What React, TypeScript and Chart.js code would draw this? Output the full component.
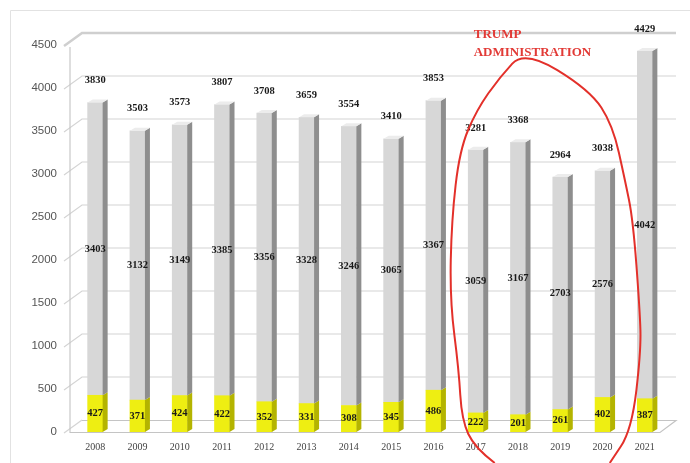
import React, { useEffect, useRef } from "react";
import { Chart, registerables } from "chart.js";

Chart.register(...registerables);

const years = ["2008","2009","2010","2011","2012","2013","2014","2015","2016","2017","2018","2019","2020","2021"];
const totals = [3830, 3503, 3573, 3807, 3708, 3659, 3554, 3410, 3853, 3281, 3368, 2964, 3038, 4429];
const yellowValues = [427, 371, 424, 422, 352, 331, 308, 345, 486, 222, 201, 261, 402, 387];
const greyLabels = [3403, 3132, 3149, 3385, 3356, 3328, 3246, 3065, 3367, 3059, 3167, 2703, 2576, 4042];
const yTicks = [0, 500, 1000, 1500, 2000, 2500, 3000, 3500, 4000, 4500];
const annotationLines = ["TRUMP", "ADMINISTRATION"];
// hand-drawn loop, in (category index, value) units
const loopIdx = [9.45, 8.98, 8.67, 8.6, 8.39, 8.43, 8.62, 9.02, 9.57, 10.16, 11.7, 12.24, 12.53, 12.72, 12.88, 12.91, 12.69, 12.17];
const loopVal = [-360, -186, 140, 721, 1535, 2465, 3279, 3744, 4128, 4440, 3977, 3570, 2930, 2465, 1419, 953, 23, -360];

const greyValues = totals.map((t, i) => t - yellowValues[i]);

const decorPlugin = {
  id: "decor",
  beforeDatasetsDraw(chart: any) {
    const { ctx, chartArea, scales } = chart;
    const y = scales.y;
    const L = chartArea.left;
    const R = chartArea.right;
    ctx.save();
    // frame
    ctx.strokeStyle = "#e2e2e2";
    ctx.lineWidth = 1;
    ctx.beginPath();
    ctx.moveTo(10.5, 463);
    ctx.lineTo(10.5, 10.5);
    ctx.lineTo(690, 10.5);
    ctx.stroke();
    // back wall grid lines
    yTicks.forEach((v) => {
      const py = y.getPixelForValue(v);
      ctx.strokeStyle = v === 4500 ? "#cfcfcf" : "#d4d4d4";
      ctx.lineWidth = v === 4500 ? 2.5 : 1.2;
      ctx.beginPath();
      ctx.moveTo(L - 10, py + 1);
      ctx.lineTo(L + 8, py - 12);
      if (v !== 0) ctx.lineTo(R + 10, py - 12);
      ctx.stroke();
    });
    // axis line
    ctx.strokeStyle = "#c8c8c8";
    ctx.lineWidth = 1.2;
    ctx.beginPath();
    ctx.moveTo(L - 4, y.getPixelForValue(4500) + 2);
    ctx.lineTo(L - 4, y.getPixelForValue(0) + 1);
    ctx.stroke();
    // floor
    const z = y.getPixelForValue(0);
    ctx.strokeStyle = "#c4c4c4";
    ctx.beginPath();
    ctx.moveTo(L - 4, z + 0.5);
    ctx.lineTo(R - 6, z + 0.5);
    ctx.lineTo(R + 10, z - 11.5);
    ctx.lineTo(L + 8, z - 11.5);
    ctx.stroke();
    ctx.restore();
  },
  afterDatasetsDraw(chart: any) {
    const { ctx, scales } = chart;
    const x = scales.x;
    const y = scales.y;
    ctx.save();
    const sides = ["#b4b400", "#8e8e8e"];
    const caps = ["#f6f680", "#ececec"];
    [0, 1].forEach((di) => {
      const meta = chart.getDatasetMeta(di);
      meta.data.forEach((bar: any) => {
        const w = bar.width;
        const right = bar.x + w / 2;
        const top = Math.min(bar.y, bar.base);
        const bottom = Math.max(bar.y, bar.base);
        ctx.fillStyle = sides[di];
        ctx.beginPath();
        ctx.moveTo(right, top);
        ctx.lineTo(right + 5, top - 3);
        ctx.lineTo(right + 5, bottom - 3);
        ctx.lineTo(right, bottom);
        ctx.closePath();
        ctx.fill();
        if (di === 1) {
          ctx.fillStyle = caps[di];
          ctx.beginPath();
          ctx.moveTo(bar.x - w / 2, top);
          ctx.lineTo(bar.x - w / 2 + 5, top - 3);
          ctx.lineTo(right + 5, top - 3);
          ctx.lineTo(right, top);
          ctx.closePath();
          ctx.fill();
        }
      });
    });
    // value labels
    ctx.fillStyle = "#1a1a1a";
    ctx.textAlign = "center";
    ctx.textBaseline = "middle";
    ctx.font = "bold 10.5px 'Liberation Serif', serif";
    years.forEach((_, i) => {
      const px = x.getPixelForValue(i);
      const yTop = y.getPixelForValue(totals[i]);
      const yMid = y.getPixelForValue(yellowValues[i]);
      const y0 = y.getPixelForValue(0);
      ctx.fillText(String(totals[i]), px, yTop - 22);
      ctx.fillText(String(greyLabels[i]), px, (yTop + yMid) / 2);
      ctx.fillText(String(yellowValues[i]), px, (yMid + y0) / 2);
    });
    // annotation text
    ctx.fillStyle = "#e23a36";
    ctx.textAlign = "left";
    ctx.font = "bold 13px 'Liberation Serif', serif";
    const tx = x.getPixelForValue(9) - 2;
    ctx.fillText(annotationLines[0], tx, y.getPixelForValue(4616));
    ctx.fillText(annotationLines[1], tx, y.getPixelForValue(4407));
    // hand drawn loop
    const pts = loopIdx.map((v, i) => [x.getPixelForValue(v), y.getPixelForValue(loopVal[i])]);
    ctx.strokeStyle = "#e3302a";
    ctx.lineWidth = 2;
    ctx.lineJoin = "round";
    ctx.beginPath();
    ctx.moveTo(pts[0][0], pts[0][1]);
    for (let i = 1; i < pts.length - 1; i++) {
      const mx = (pts[i][0] + pts[i + 1][0]) / 2;
      const my = (pts[i][1] + pts[i + 1][1]) / 2;
      ctx.quadraticCurveTo(pts[i][0], pts[i][1], mx, my);
    }
    const last = pts[pts.length - 1];
    ctx.lineTo(last[0], last[1]);
    ctx.stroke();
    ctx.restore();
  },
};

export default function App() {
  const ref = useRef<HTMLCanvasElement>(null);
  useEffect(() => {
    document.body.style.margin = "0";
    const chart = new Chart(ref.current as HTMLCanvasElement, {
      type: "bar",
      data: {
        labels: years,
        datasets: [
          { data: yellowValues, backgroundColor: "#eeee12", barThickness: 15, borderWidth: 0 },
          { data: greyValues, backgroundColor: "#d7d7d7", barThickness: 15, borderWidth: 0 },
        ],
      },
      options: {
        responsive: false,
        animation: false,
        layout: { padding: { top: 45, right: 24, left: 0, bottom: 0 } },
        plugins: { legend: { display: false }, tooltip: { enabled: false } },
        scales: {
          x: {
            stacked: true,
            grid: { display: false, drawTicks: false },
            border: { display: false },
            ticks: { color: "#444", font: { family: "'Liberation Serif', serif", size: 10 }, padding: 9, maxRotation: 0 },
            afterFit: (s: any) => { s.height = 31; },
          },
          y: {
            stacked: true,
            min: 0,
            max: 4500,
            grid: { display: false, drawTicks: false },
            border: { display: false },
            ticks: {
              stepSize: 500,
              color: "#555",
              font: { family: "'Liberation Sans', sans-serif", size: 11.5 },
              padding: 17,
              callback: (v: any) => String(v),
            },
            afterFit: (s: any) => { s.width = 74; },
          },
        },
      },
      plugins: [decorPlugin],
    });
    return () => chart.destroy();
  }, []);
  return (
    <div style={{ width: 690, height: 463, background: "#fff" }}>
      <canvas ref={ref} width={690} height={463} style={{ display: "block" }} />
    </div>
  );
}
